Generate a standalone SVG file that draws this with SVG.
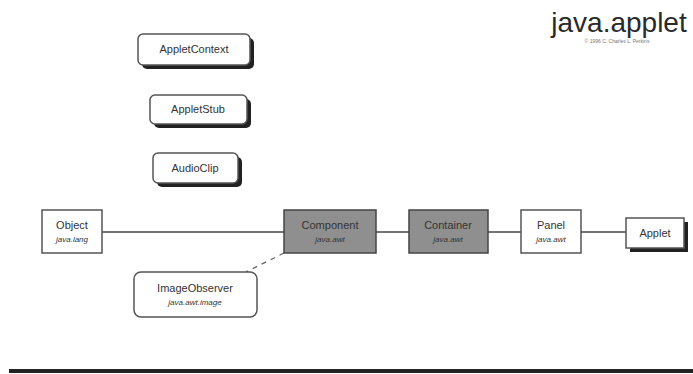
<svg xmlns="http://www.w3.org/2000/svg" width="693" height="374" viewBox="0 0 693 374">
<style>
.box{fill:#fff;stroke:#555;stroke-width:1.5}
.gray{fill:#8f8f8f;stroke:#444;stroke-width:1.5}
.sh{fill:#222}
.t{font-family:"Liberation Sans",Arial,sans-serif;font-size:11px;fill:#333;text-anchor:middle}
.s{font-family:"Liberation Sans",Arial,sans-serif;font-size:8px;font-style:italic;fill:#333;text-anchor:middle}
.ln{stroke:#444;stroke-width:1.3;fill:none}
</style>
<rect width="693" height="374" fill="#fff"/>
<text x="619" y="32" font-family="Liberation Sans,Arial,sans-serif" font-size="28" fill="#2a2a2a" text-anchor="middle">java.applet</text>
<text x="617" y="43" font-family="Liberation Sans,Arial,sans-serif" font-size="5" fill="#777" text-anchor="middle">© 1996 C. Charles L. Perkins</text>
<g id="connectors">
<line class="ln" x1="102" y1="232" x2="284" y2="232"/>
<line class="ln" x1="376" y1="232" x2="409" y2="232"/>
<line class="ln" x1="488" y1="232" x2="521" y2="232"/>
<line class="ln" x1="581" y1="232" x2="626" y2="232"/>
<line x1="284" y1="253" x2="246" y2="272" stroke="#666" stroke-width="1.3" stroke-dasharray="5,5"/>
</g>
<g id="AppletContext">
<rect class="sh" x="142" y="38" width="112" height="31" rx="5"/>
<rect class="box" x="138" y="34" width="112" height="31" rx="5"/>
<text class="t" x="194" y="53">AppletContext</text>
</g>
<g id="AppletStub">
<rect class="sh" x="154" y="99" width="97" height="29" rx="5"/>
<rect class="box" x="150" y="95" width="97" height="29" rx="5"/>
<text class="t" x="198" y="113">AppletStub</text>
</g>
<g id="AudioClip">
<rect class="sh" x="157" y="157" width="85" height="30" rx="5"/>
<rect class="box" x="153" y="153" width="85" height="30" rx="5"/>
<text class="t" x="195" y="172">AudioClip</text>
</g>
<g id="Object">
<rect class="box" x="42" y="210" width="60" height="43"/>
<text class="t" x="72" y="229">Object</text>
<text class="s" x="72" y="242">java.lang</text>
</g>
<g id="Component">
<rect class="gray" x="284" y="210" width="92" height="43"/>
<text class="t" x="330" y="229">Component</text>
<text class="s" x="330" y="242">java.awt</text>
</g>
<g id="Container">
<rect class="gray" x="409" y="210" width="79" height="43"/>
<text class="t" x="448" y="229">Container</text>
<text class="s" x="448" y="242">java.awt</text>
</g>
<g id="Panel">
<rect class="box" x="521" y="210" width="60" height="43"/>
<text class="t" x="551" y="229">Panel</text>
<text class="s" x="551" y="242">java.awt</text>
</g>
<g id="Applet">
<rect class="sh" x="630" y="222" width="58" height="30"/>
<rect class="box" x="626" y="218" width="58" height="30"/>
<text class="t" x="655" y="237">Applet</text>
</g>
<g id="ImageObserver">
<rect class="box" x="134" y="272" width="123" height="45" rx="7"/>
<text class="t" x="195" y="292">ImageObserver</text>
<text class="s" x="195" y="305">java.awt.image</text>
</g>
<rect x="9" y="369" width="684" height="4" fill="#222"/>
</svg>
